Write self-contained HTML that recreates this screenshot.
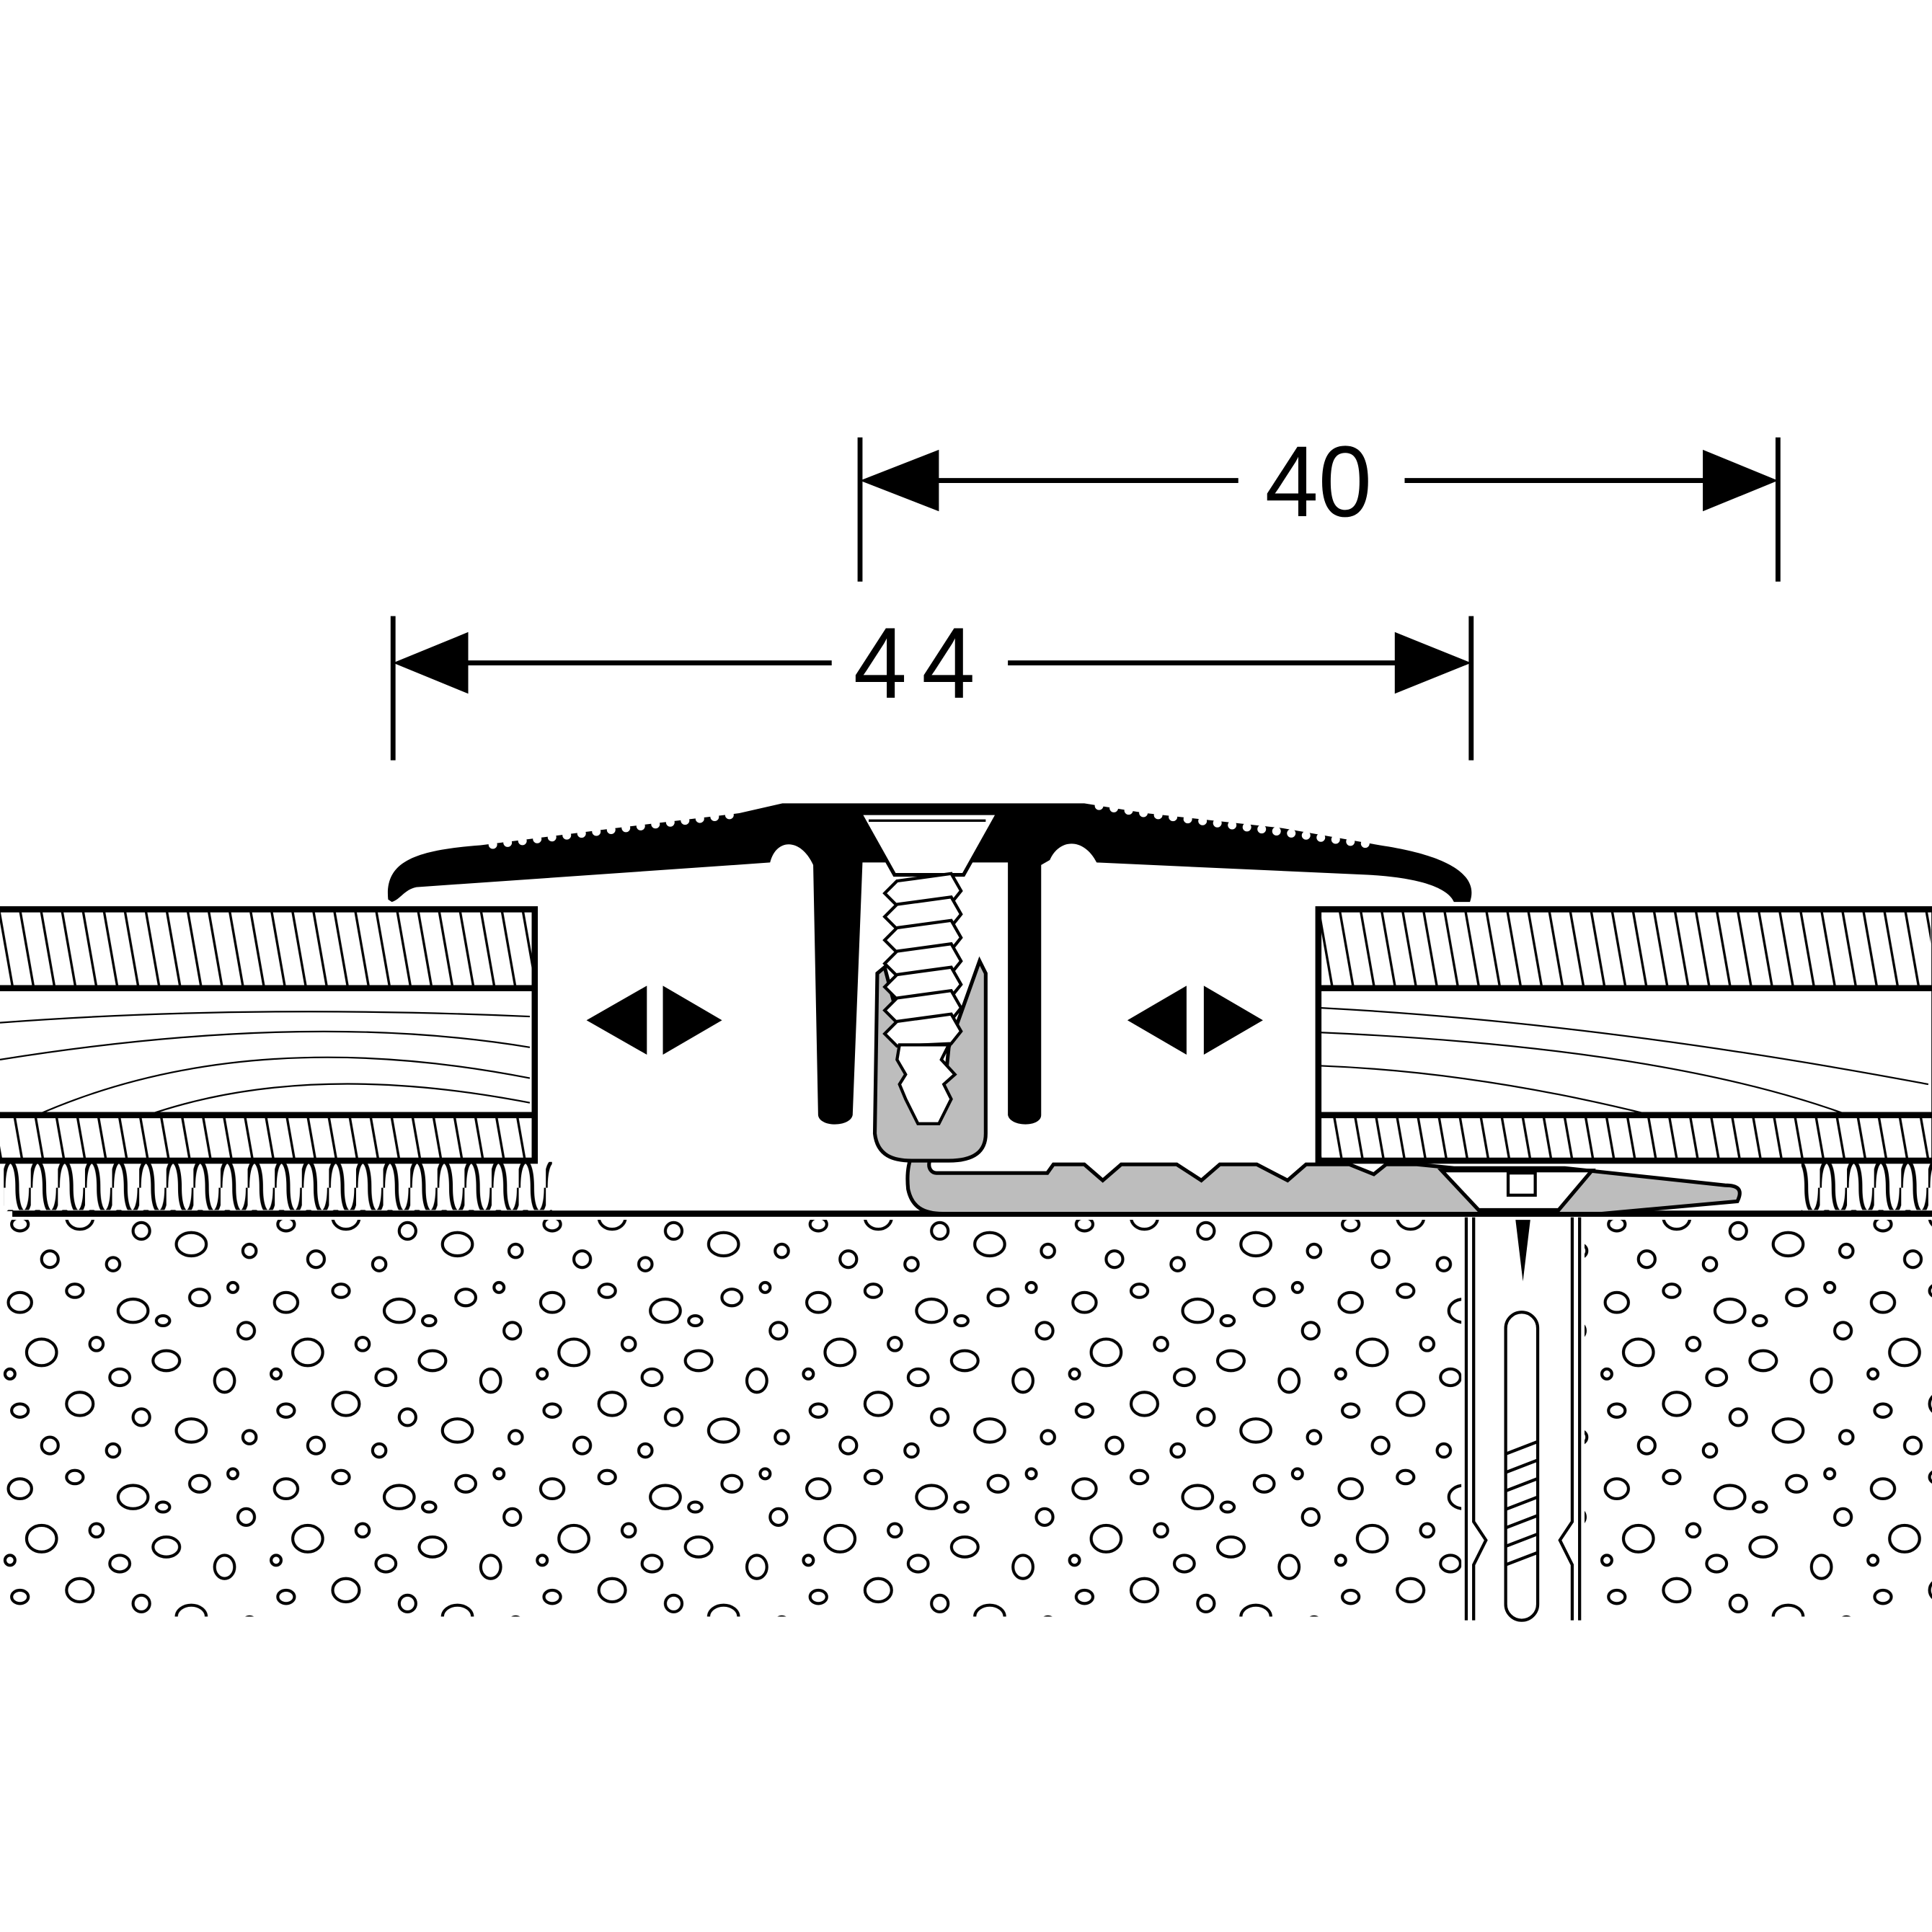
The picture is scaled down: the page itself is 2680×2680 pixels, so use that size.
<!DOCTYPE html>
<html><head><style>html,body{margin:0;padding:0;background:#fff}svg{display:block}</style></head>
<body>
<svg width="2680" height="2680" viewBox="0 0 1568 1568" xmlns="http://www.w3.org/2000/svg">
<defs>
<pattern id="hp" patternUnits="userSpaceOnUse" width="17" height="300" patternTransform="skewX(10)">
<line x1="5" y1="0" x2="5" y2="300" stroke="#000" stroke-width="2"/>
</pattern>
<pattern id="cp" patternUnits="userSpaceOnUse" x="3" y="942" width="22" height="40">
<path d="M0,22 C0,-6 11,-6 11,22 C11,48 22,48 22,22" fill="none" stroke="#000" stroke-width="3"/>
</pattern>
<pattern id="pp" patternUnits="userSpaceOnUse" x="0" y="992" width="160" height="112" patternTransform="scale(1.35)">
<g fill="#fff" stroke="#000" stroke-width="1.8">
<ellipse cx="12" cy="15" rx="7" ry="6"/><ellipse cx="45" cy="8" rx="5" ry="4"/><ellipse cx="80" cy="20" rx="9" ry="7"/>
<ellipse cx="120" cy="12" rx="6" ry="5"/><ellipse cx="148" cy="32" rx="5" ry="5"/><ellipse cx="25" cy="45" rx="9" ry="8"/>
<ellipse cx="58" cy="40" rx="4" ry="4"/><ellipse cx="100" cy="50" rx="8" ry="6"/><ellipse cx="135" cy="62" rx="6" ry="7"/>
<ellipse cx="12" cy="80" rx="5" ry="4"/><ellipse cx="48" cy="76" rx="8" ry="7"/><ellipse cx="85" cy="84" rx="5" ry="5"/>
<ellipse cx="115" cy="92" rx="9" ry="7"/><ellipse cx="150" cy="96" rx="4" ry="4"/><ellipse cx="30" cy="101" rx="5" ry="5"/>
<ellipse cx="68" cy="104" rx="4" ry="4"/><ellipse cx="98" cy="26" rx="4" ry="3"/><ellipse cx="140" cy="6" rx="3" ry="3"/>
<ellipse cx="6" cy="58" rx="3" ry="3"/><ellipse cx="72" cy="60" rx="6" ry="5"/>
</g>
</pattern>
</defs>
<rect width="1568" height="1568" fill="#fff"/>
<g stroke="#000" stroke-width="4">
<line x1="698" y1="355" x2="698" y2="472"/>
<line x1="1443" y1="355" x2="1443" y2="472"/>
<line x1="740" y1="390" x2="1005" y2="390"/>
<line x1="1140" y1="390" x2="1400" y2="390"/>
<line x1="319" y1="500" x2="319" y2="617"/>
<line x1="1194" y1="500" x2="1194" y2="617"/>
<line x1="360" y1="538" x2="675" y2="538"/>
<line x1="818" y1="538" x2="1150" y2="538"/>
</g>
<polygon points="698,390 762,365 762,415"/>
<polygon points="1443,390 1382,365 1382,415"/>
<polygon points="319,538 380,513 380,563"/>
<polygon points="1194,538 1132,513 1132,563"/>
<text x="1070" y="419" font-family="Liberation Sans, sans-serif" font-size="78" text-anchor="middle" transform="translate(1070 0) scale(1 1.05) translate(-1070 -20)">40</text>
<text x="748" y="565" font-family="Liberation Sans, sans-serif" font-size="78" text-anchor="middle" letter-spacing="12" transform="translate(0 -27) scale(1 1.05)">44</text>

<rect x="0" y="740" width="432" height="60" fill="url(#hp)"/>
<rect x="0" y="906" width="432" height="34" fill="url(#hp)"/>
<rect x="1072" y="740" width="495" height="60" fill="url(#hp)"/>
<rect x="1072" y="906" width="495" height="34" fill="url(#hp)"/>
<g stroke="#000" fill="none">
<rect x="-5" y="738" width="439" height="204" stroke-width="5"/>
<rect x="1070" y="738" width="500" height="204" stroke-width="5"/>
<line x1="-5" y1="802" x2="434" y2="802" stroke-width="5"/>
<line x1="-5" y1="905" x2="434" y2="905" stroke-width="5"/>
<line x1="1070" y1="802" x2="1570" y2="802" stroke-width="5"/>
<line x1="1070" y1="905" x2="1570" y2="905" stroke-width="5"/>
</g>
<g stroke="#000" stroke-width="1.3" fill="none">
<path d="M0,830 Q200,815 430,825"/><path d="M0,860 Q250,820 430,850"/><path d="M30,905 Q200,830 430,875"/><path d="M120,905 Q250,860 430,895"/>
<path d="M1072,818 Q1300,830 1565,880"/><path d="M1072,838 Q1350,850 1500,905"/><path d="M1072,865 Q1200,870 1340,905"/>
</g>
<rect x="3" y="943" width="445" height="40" fill="url(#cp)"/>
<rect x="1462" y="943" width="106" height="40" fill="url(#cp)"/>
<rect x="0" y="990" width="1568" height="322" fill="url(#pp)"/>
<line x1="10" y1="985" x2="1568" y2="985" stroke="#000" stroke-width="5"/>
<rect x="1186" y="988" width="100" height="330" fill="#fff"/>
<g stroke="#000" stroke-width="2.5" fill="none">
<line x1="1190" y1="988" x2="1190" y2="1315"/><line x1="1282" y1="988" x2="1282" y2="1315"/>
<path d="M1196,988 L1196,1235 L1206,1250 L1196,1270 L1196,1315"/>
<path d="M1276,988 L1276,1235 L1266,1250 L1276,1270 L1276,1315"/>
<rect x="1222" y="1065" width="26" height="250" rx="13"/>
<path d="M1222,1180 L1248,1170 M1222,1195 L1248,1185 M1222,1210 L1248,1200 M1222,1225 L1248,1215 M1222,1240 L1248,1230 M1222,1255 L1248,1245 M1222,1270 L1248,1260"/>
</g>
<polygon points="1230,990 1242,990 1236,1040"/>
<path d="M760,925 C740,925 735,945 737,965 C740,980 750,985 765,985 L1300,985 L1410,975 C1415,965 1410,962 1400,962 L1270,948 L1180,948 L1150,945 L1125,945 L1115,953 L1095,945 L1060,945 L1045,958 L1020,945 L990,945 L975,958 L955,945 L910,945 L895,958 L880,945 L855,945 L850,952 L760,952 C752,952 752,938 760,940 Z" fill="#bdbdbd" stroke="#000" stroke-width="3"/>
<path d="M712,790 L710,920 C712,938 725,942 740,942 L770,942 C790,942 800,935 800,920 L800,790 L795,780 L770,850 L768,870 L740,870 L735,850 L718,785 Z" fill="#bdbdbd" stroke="#000" stroke-width="3"/>
<path d="M1170,950 L1292,950 L1265,982 L1200,982 Z" fill="#fff" stroke="#000" stroke-width="3"/>
<rect x="1224" y="952" width="22" height="18" fill="#fff" stroke="#000" stroke-width="2.5"/>
<path d="M315,730 C312,700 335,690 390,686 L500,672 L600,660 L635,652 L880,652 L930,660 L1040,672 L1120,686 C1180,695 1200,712 1193,732 L1180,732 C1175,720 1150,712 1110,710 L890,700 C880,680 860,680 852,698 L845,702 L845,905 C845,915 820,915 818,905 L818,700 L700,700 L692,905 C690,915 665,915 664,905 L660,702 C650,680 630,680 625,700 L338,720 C328,722 325,730 318,732 Z" fill="#000"/>
<g fill="#fff">
<circle cx="400" cy="685.4" r="3.5"/><circle cx="412" cy="683.9" r="3.5"/><circle cx="424" cy="682.4" r="3.5"/><circle cx="436" cy="680.9" r="3.5"/><circle cx="448" cy="679.4" r="3.5"/><circle cx="460" cy="677.9" r="3.5"/><circle cx="472" cy="676.4" r="3.5"/><circle cx="484" cy="674.9" r="3.5"/><circle cx="496" cy="673.4" r="3.5"/><circle cx="508" cy="671.9" r="3.5"/><circle cx="520" cy="670.4" r="3.5"/><circle cx="532" cy="668.9" r="3.5"/><circle cx="544" cy="667.4" r="3.5"/><circle cx="556" cy="665.9" r="3.5"/><circle cx="568" cy="664.4" r="3.5"/><circle cx="580" cy="662.9" r="3.5"/><circle cx="592" cy="661.4" r="3.5"/>
<circle cx="892" cy="653.9" r="3.5"/><circle cx="904" cy="655.8" r="3.5"/><circle cx="916" cy="657.7" r="3.5"/><circle cx="928" cy="659.7" r="3.5"/><circle cx="940" cy="661.4" r="3.5"/><circle cx="952" cy="663" r="3.5"/><circle cx="964" cy="664.7" r="3.5"/><circle cx="976" cy="666.3" r="3.5"/><circle cx="988" cy="668" r="3.5"/><circle cx="1000" cy="669.6" r="3.5"/><circle cx="1012" cy="671.3" r="3.5"/><circle cx="1024" cy="672.9" r="3.5"/><circle cx="1036" cy="674.6" r="3.5"/><circle cx="1048" cy="676.3" r="3.5"/><circle cx="1060" cy="678" r="3.5"/><circle cx="1072" cy="679.7" r="3.5"/><circle cx="1084" cy="681.3" r="3.5"/><circle cx="1096" cy="683" r="3.5"/><circle cx="1108" cy="684.6" r="3.5"/>
</g>
<path d="M698,660 L810,660 L782,710 L726,710 Z" fill="#fff" stroke="#000" stroke-width="3"/>
<line x1="705" y1="666" x2="800" y2="666" stroke="#000" stroke-width="2"/>
<g fill="#fff" stroke="#000" stroke-width="2.5">
<path d="M728,715 L772,709 L780,723 L772,733 L728,735 L718,725 Z"/>
<path d="M728,734 L772,728 L780,742 L772,752 L728,754 L718,744 Z"/>
<path d="M728,753 L772,747 L780,761 L772,771 L728,773 L718,763 Z"/>
<path d="M728,772 L772,766 L780,780 L772,790 L728,792 L718,782 Z"/>
<path d="M728,791 L772,785 L780,799 L772,809 L728,811 L718,801 Z"/>
<path d="M728,810 L772,804 L780,818 L772,828 L728,830 L718,820 Z"/>
<path d="M728,829 L772,823 L780,837 L772,847 L728,849 L718,839 Z"/>
<path d="M730,848 L770,848 L764,860 L775,872 L766,880 L772,892 L762,912 L745,912 L735,892 L730,880 L735,872 L728,860 Z"/>
</g>
<g fill="#000">
<polygon points="476,828 525,800 525,856"/><polygon points="586,828 538,800 538,856"/>
<polygon points="915,828 963,800 963,856"/><polygon points="1025,828 977,800 977,856"/>
</g>
</svg>
</body></html>
